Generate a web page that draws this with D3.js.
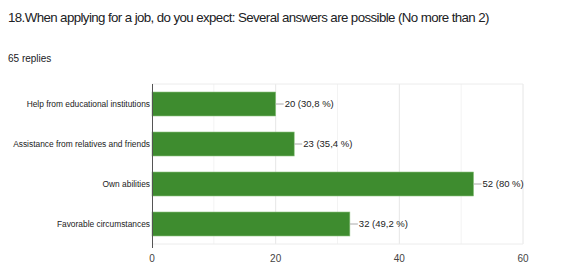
<!DOCTYPE html>
<html>
<head>
<meta charset="utf-8">
<script src="https://cdn.jsdelivr.net/npm/d3@7"></script>
<style>
  body { margin: 0; background: #fff; }
  svg { font-family: "Liberation Sans", Arial, sans-serif; display: block; }
</style>
</head>
<body>
<svg id="chart"></svg>
<script>
// data
const categories = ["Help from educational institutions", "Assistance from relatives and friends", "Own abilities", "Favorable circumstances"];
const counts = [20, 23, 52, 32];
const percents = ["30,8", "35,4", "80", "49,2"];
const ticks = [0, 20, 40, 60];
const minorTicks = [10, 30, 50];

const width = 569, height = 278;
const marginLeft = 152, marginRight = 46, marginTop = 84, marginBottom = 34;

const svg = d3.select('#chart')
  .attr('width', width)
  .attr('height', height);

// title + reply count
svg.append('text').attr('x', 8).attr('y', 22)
  .text('18.When applying for a job, do you expect: Several answers are possible (No more than 2)')
  .style('font-size', '13.3px').style('letter-spacing', '-0.6px').style('fill', '#202124');
svg.append('text').attr('x', 8).attr('y', 62)
  .style('fill', '#202124')
  .call(t => {
    t.append('tspan').text('65').style('font-size', '10px');
    t.append('tspan').text(' replies').style('font-size', '10px');
  });

const x = d3.scaleLinear().domain([0, 60]).range([marginLeft, width - marginRight]);
const y = d3.scaleBand().domain(categories).range([marginTop, height - marginBottom]).paddingInner(0.4).paddingOuter(0.2);

// gridlines
svg.append('g').selectAll('line.minor').data(minorTicks).join('line')
  .attr('x1', d => x(d)).attr('x2', d => x(d))
  .attr('y1', marginTop).attr('y2', height - marginBottom)
  .style('stroke', '#f3f3f3');
svg.append('g').selectAll('line.major').data(ticks.slice(1)).join('line')
  .attr('x1', d => x(d)).attr('x2', d => x(d))
  .attr('y1', marginTop).attr('y2', height - marginBottom)
  .style('stroke', '#e6e6e6');
svg.append('line')
  .attr('x1', marginLeft).attr('x2', x(60))
  .attr('y1', marginTop).attr('y2', marginTop)
  .style('stroke', '#ececec');
svg.append('line')
  .attr('x1', marginLeft).attr('x2', x(60))
  .attr('y1', height - marginBottom).attr('y2', height - marginBottom)
  .style('stroke', '#ececec');

// bars
svg.append('g').selectAll('rect').data(categories).join('rect')
  .attr('x', x(0))
  .attr('y', d => y(d))
  .attr('width', (d, i) => x(counts[i]) - x(0))
  .attr('height', y.bandwidth())
  .style('fill', '#3e8c2f')
  .style('stroke', '#8cc47e')
  .style('stroke-width', 0.6);

// zero axis
svg.append('line')
  .attr('x1', x(0) + 0.5).attr('x2', x(0) + 0.5)
  .attr('y1', marginTop).attr('y2', height - marginBottom + 4)
  .style('stroke', '#555');

// category labels
svg.append('g').selectAll('text').data(categories).join('text')
  .attr('x', marginLeft - 2)
  .attr('y', d => y(d) + y.bandwidth() / 2)
  .attr('dy', '0.35em')
  .attr('text-anchor', 'end')
  .text(d => d)
  .style('font-size', '8.4px').style('fill', '#222');

// value labels with leader lines
const vals = svg.append('g');
categories.forEach((c, i) => {
  const cy = y(c) + y.bandwidth() / 2;
  vals.append('line')
    .attr('x1', x(counts[i])).attr('x2', x(counts[i]) + 8)
    .attr('y1', cy).attr('y2', cy)
    .style('stroke', '#aaa');
  vals.append('text')
    .attr('x', x(counts[i]) + 9)
    .attr('y', cy)
    .attr('dy', '0.35em')
    .text(`${counts[i]} (${percents[i]} %)`)
    .style('font-size', '9.5px').style('fill', '#222');
});

// x tick labels
svg.append('g').selectAll('text').data(ticks).join('text')
  .attr('x', d => x(d))
  .attr('y', height - marginBottom + 18)
  .attr('text-anchor', 'middle')
  .text(d => d)
  .style('font-size', '10px').style('fill', '#444');
</script>
</body>
</html>
